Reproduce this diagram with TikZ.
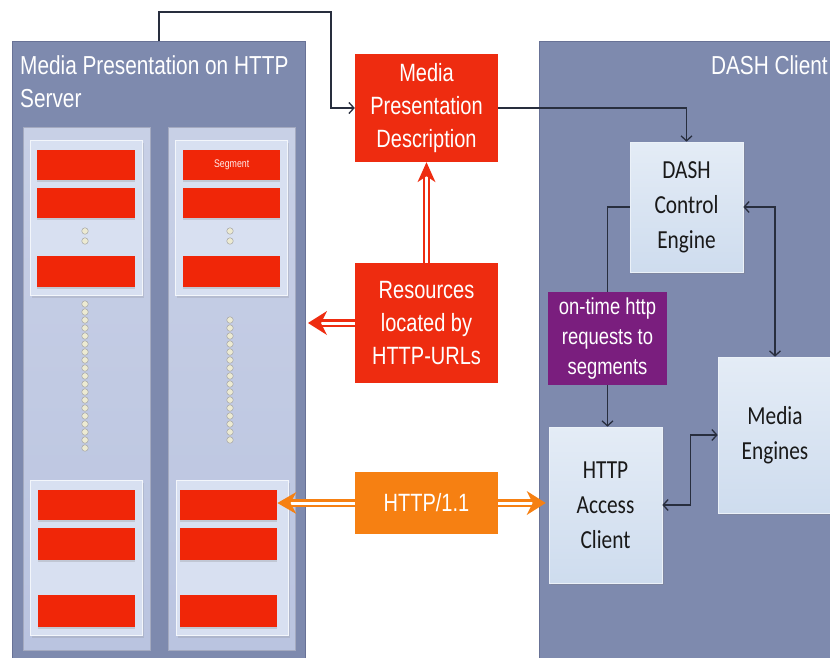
\documentclass[tikz,border=0pt]{standalone}
\usepackage{fontspec}
\setmainfont{Liberation Sans}
\newfontfamily\condsans[FakeStretch=0.8]{Liberation Sans}
\newfontfamily\humsans[FakeStretch=0.82]{Carlito}
\usetikzlibrary{arrows.meta,shadows,calc}

\definecolor{panelblue}{RGB}{126,138,174}
\definecolor{paneledge}{RGB}{104,114,150}
\definecolor{coltop}{RGB}{200,208,230}
\definecolor{colbot}{RGB}{186,196,224}
\definecolor{subfill}{RGB}{216,224,241}
\definecolor{segred}{RGB}{240,38,8}
\definecolor{boxred}{RGB}{238,44,16}
\definecolor{httporange}{RGB}{246,128,18}
\definecolor{reqpurple}{RGB}{122,30,126}
\definecolor{engtop}{RGB}{228,236,246}
\definecolor{engbot}{RGB}{206,220,238}
\definecolor{wirecol}{RGB}{40,46,62}
\definecolor{dotfill}{RGB}{236,234,210}

\tikzset{
  panel/.style={draw=paneledge, line width=1pt, fill=panelblue, inner sep=0pt, anchor=north west},
  column/.style={draw=paneledge!60, line width=0.6pt, top color=coltop, bottom color=colbot, inner sep=0pt, anchor=north west},
  subbox/.style={draw=white!70!subfill, line width=1pt, fill=subfill, inner sep=0pt, anchor=north west,
    drop shadow={opacity=0.2, shadow xshift=1pt, shadow yshift=-2pt}},
  segbar/.style={fill=segred, inner sep=0pt, anchor=north west,
    drop shadow={opacity=0.25, shadow xshift=0pt, shadow yshift=-2pt}},
  redbox/.style={fill=boxred, text=white, align=center, inner sep=0pt,
    font=\condsans\fontsize{25}{33}\selectfont},
  engine/.style={top color=engtop, bottom color=engbot, draw=white!60!engbot, line width=0.6pt,
    text=black!90, align=center, inner sep=0pt, font=\humsans\fontsize{26}{35}\selectfont,
    drop shadow={opacity=0.3, shadow xshift=2pt, shadow yshift=-2pt}},
  wire/.style={draw=wirecol, line width=1.1pt},
  wiretip/.style={-{Straight Barb[length=5pt,width=11pt,line width=1.3pt]}},
  wiretips/.style={{Straight Barb[length=5pt,width=11pt,line width=1.3pt]}-{Straight Barb[length=5pt,width=11pt,line width=1.3pt]}},
  pipe/.style={line width=2.2pt, double=white, double distance=3pt},
  dot/.style={circle, fill=dotfill, draw=gray!70, line width=0.5pt, minimum size=6.5pt, inner sep=0pt},
}

\begin{document}
\begin{tikzpicture}[x=1pt,y=-1pt]
\useasboundingbox (0,0) rectangle (830,657);
\fill[white] (0,0) rectangle (830,657);

% ---------- HTTP server side ----------
\node[panel, minimum width=293pt, minimum height=617pt] (srv) at (12,41) {};
\node[anchor=north west, align=left, text=white, inner sep=0pt,
      font=\condsans\fontsize{26}{33}\selectfont] (srvtitle) at (20,55)
      {Media Presentation on HTTP\\Server};

\node[column, minimum width=127pt, minimum height=523pt] (colA) at (23,127) {};
\node[column, minimum width=127pt, minimum height=523pt] (colB) at (168,127) {};

% upper groups of segments
\node[subbox, minimum width=112pt, minimum height=155pt] (subA1) at (30,140) {};
\node[subbox, minimum width=112pt, minimum height=155pt] (subB1) at (175,140) {};
\node[segbar, minimum width=98pt, minimum height=30pt] (a1) at (37,150) {};
\node[segbar, minimum width=98pt, minimum height=30pt] (a2) at (37,188) {};
\node[segbar, minimum width=98pt, minimum height=31pt] (a3) at (37,256) {};
\node[segbar, minimum width=97pt, minimum height=30pt, text=white!92!red,
      font=\condsans\fontsize{11}{12}\selectfont] (b1) at (183,150) {Segment};
\node[segbar, minimum width=97pt, minimum height=30pt] (b2) at (183,188) {};
\node[segbar, minimum width=97pt, minimum height=31pt] (b3) at (183,256) {};
\foreach \yy in {231,241} {
  \node[dot] at (85,\yy) {};
  \node[dot] at (230,\yy) {};
}

% long runs of dots between the groups
\foreach \yy in {304,312,...,452} { \node[dot] at (85,\yy) {}; }
\foreach \yy in {320,328,...,446} { \node[dot] at (230,\yy) {}; }

% lower groups of segments
\node[subbox, minimum width=112pt, minimum height=155pt] (subA2) at (30,480) {};
\node[subbox, minimum width=112pt, minimum height=155pt] (subB2) at (176,480) {};
\node[segbar, minimum width=97pt, minimum height=30pt] (a4) at (38,490) {};
\node[segbar, minimum width=97pt, minimum height=32pt] (a5) at (38,528) {};
\node[segbar, minimum width=97pt, minimum height=32pt] (a6) at (38,595) {};
\node[segbar, minimum width=97pt, minimum height=30pt] (b4) at (180,490) {};
\node[segbar, minimum width=97pt, minimum height=32pt] (b5) at (180,528) {};
\node[segbar, minimum width=97pt, minimum height=32pt] (b6) at (180,595) {};

% ---------- middle boxes ----------
\node[redbox, minimum width=143pt, minimum height=108pt] (mpd) at (426.5,108)
      {Media\\Presentation\\Description};
\node[redbox, minimum width=143pt, minimum height=120pt] (res) at (426.5,323)
      {Resources\\located by\\HTTP-URLs};
\node[redbox, fill=httporange, minimum width=143pt, minimum height=62pt] (http) at (426.5,503)
      {HTTP/1.1};

% ---------- DASH client side ----------
\node[panel, minimum width=293pt, minimum height=617pt] (cli) at (539,41) {};
\node[anchor=north east, text=white, inner sep=0pt,
      font=\condsans\fontsize{26}{33}\selectfont] (clititle) at (828,55) {DASH Client};

\node[engine, minimum width=113pt, minimum height=130pt] (dce) at (686.5,207)
      {DASH\\Control\\Engine};
\node[fill=reqpurple, text=white, align=center, inner sep=0pt,
      minimum width=119pt, minimum height=93pt,
      font=\condsans\fontsize{23}{30}\selectfont] (req) at (607.5,338.5)
      {on-time http\\requests to\\segments};
\node[engine, minimum width=113pt, minimum height=156pt] (hac) at (605.5,505)
      {HTTP\\Access\\Client};
\node[engine, minimum width=114pt, minimum height=156pt] (me) at (775,435)
      {Media\\Engines};

% ---------- connectors ----------
\coordinate (srvtop) at ($(srv.north west)+(147,0)$);
\coordinate (bend) at (331,12);
\draw[wire, wiretip] (srvtop) |- (bend) |- (mpd.west);
\draw[wire, wiretip] (mpd.east) -| (dce.north);
\draw[wire] (dce.west) -| (req.north);
\draw[wire, wiretip] (req.south) -- (req.south |- hac.north);
\draw[wire, wiretips] (dce.east) -| (me.north);
\coordinate (hmid) at ($(hac.east)+(28,0)$);
\draw[wire, wiretips] (hac.east) -- (hmid) |- (me.west);

% double pipes, each closed by a notched head
\coordinate (mpdfoot) at (res.north |- mpd.south);
\draw[pipe, draw=boxred] (res.north) -- ($(mpdfoot)+(0,12)$);
\fill[boxred] (mpdfoot) -- ++(-9,20) -- ++(9,-6) -- ++(9,6) -- cycle;

\coordinate (srvedge) at ($(res.west -| srv.east)+(2,0)$);
\draw[pipe, draw=boxred] (res.west) -- ($(srvedge)+(12,0)$);
\fill[boxred] (srvedge) -- ++(19,-12) -- ++(-6,12) -- ++(6,12) -- cycle;

\coordinate (segedge) at (http.west -| b4.east);
\draw[pipe, draw=httporange] (http.west) -- ($(segedge)+(12,0)$);
\fill[httporange] (segedge) -- ++(19,-11) -- ++(-6,11) -- ++(6,11) -- cycle;

\coordinate (hacedge) at ($(http.east -| hac.west)+(-3,0)$);
\draw[pipe, draw=httporange] (http.east) -- ($(hacedge)+(-12,0)$);
\fill[httporange] (hacedge) -- ++(-19,-12) -- ++(6,12) -- ++(-6,12) -- cycle;
\end{tikzpicture}
\end{document}
